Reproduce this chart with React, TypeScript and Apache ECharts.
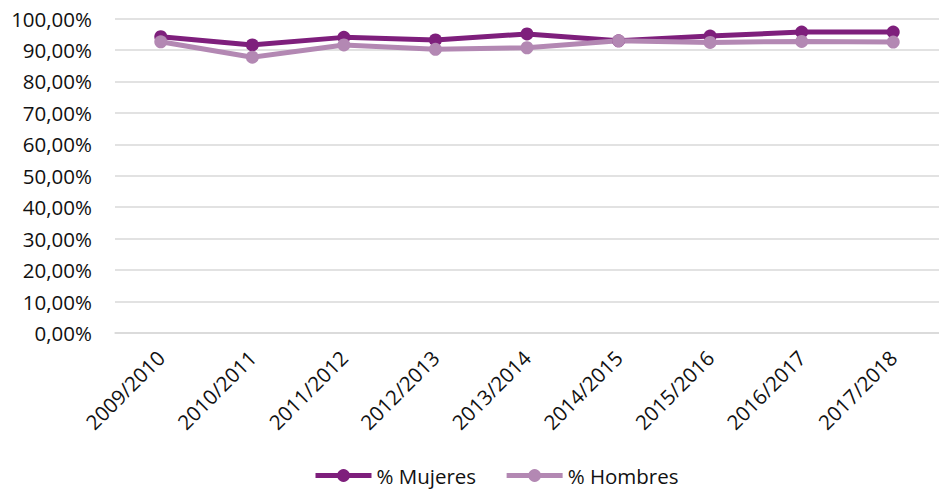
import React, { useEffect, useRef } from "react";
import * as echarts from "echarts";

const categories = ["2009/2010", "2010/2011", "2011/2012", "2012/2013", "2013/2014", "2014/2015", "2015/2016", "2016/2017", "2017/2018"];
const mujeres = [94.2, 91.6, 94.0, 93.2, 95.1, 92.9, 94.4, 95.7, 95.7];
const hombres = [92.6, 87.7, 91.6, 90.2, 90.7, 92.9, 92.4, 92.7, 92.5];

const FONT = "'Open Sans', 'Noto Sans', sans-serif";

export default function App() {
  const ref = useRef<HTMLDivElement>(null);
  useEffect(() => {
    if (!ref.current) return;
    const chart = echarts.init(ref.current, null, { renderer: "svg" });
    const fmt = (v: number) => v.toFixed(2).replace(".", ",") + "%";
    chart.setOption({
      animation: false,
      textStyle: { fontFamily: FONT },
      grid: { left: 115, right: -10, top: 18.5, bottom: 161 },
      legend: {
        top: 460,
        left: 308,
        padding: [5, 5, 5, 5],
        itemWidth: 56,
        itemHeight: 16,
        itemGap: 28,
        lineStyle: { width: 5 },
        textStyle: { fontSize: 20.5, color: "#111", fontFamily: FONT },
        data: ["% Mujeres", "% Hombres"],
      },
      xAxis: {
        type: "category",
        data: categories,
        boundaryGap: true,
        axisLine: { lineStyle: { color: "#d9d9d9", width: 1.5 } },
        axisTick: { show: false },
        axisLabel: { rotate: 45, fontSize: 20.5, color: "#111", margin: 21, fontFamily: FONT },
      },
      yAxis: {
        type: "value",
        min: 0,
        max: 100,
        interval: 10,
        axisLine: { show: false },
        axisTick: { show: false },
        splitLine: { lineStyle: { color: "#d9d9d9", width: 1.5 } },
        axisLabel: { formatter: fmt, fontSize: 20.5, color: "#111", margin: 23, fontFamily: FONT },
      },
      series: [
        {
          name: "% Mujeres",
          type: "line",
          data: mujeres,
          color: "#7E1F7C",
          lineStyle: { width: 5, color: "#7E1F7C" },
          symbol: "circle",
          symbolSize: 13,
          itemStyle: { color: "#7E1F7C" },
        },
        {
          name: "% Hombres",
          type: "line",
          data: hombres,
          color: "#B388B3",
          lineStyle: { width: 5, color: "#B388B3" },
          symbol: "circle",
          symbolSize: 13,
          itemStyle: { color: "#B388B3" },
        },
      ],
    });
    return () => chart.dispose();
  }, []);
  return <div ref={ref} style={{ width: 939, height: 494, position: "absolute", left: 0, top: 0 }} />;
}
